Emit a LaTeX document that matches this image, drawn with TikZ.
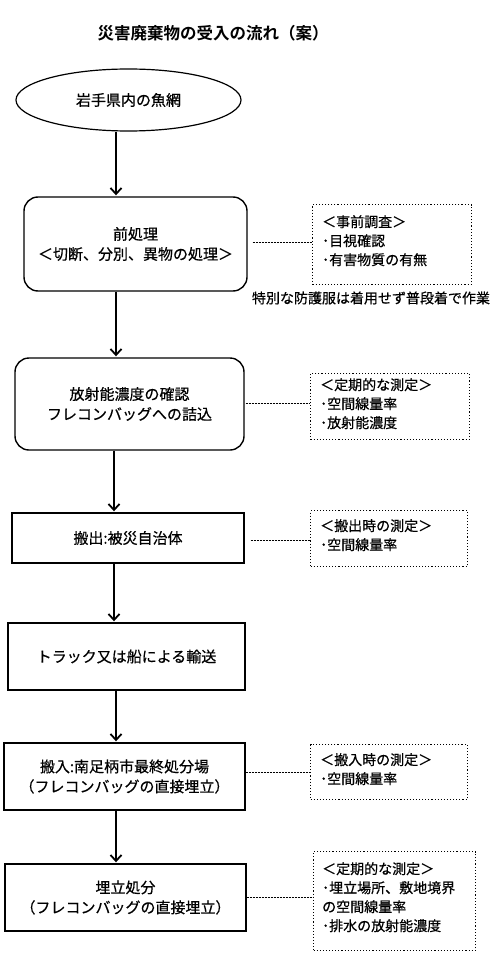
\documentclass[tikz,border=0pt]{standalone}
\usepackage{fontspec}
\newfontfamily\jp[FakeBold=0.6]{Noto Sans CJK JP}
\newfontfamily\jpb{Noto Sans CJK JP Bold}
\usetikzlibrary{arrows.meta,shapes.geometric}
\tikzset{
  mainbox/.style={draw, line width=1.4pt, align=center, inner sep=0pt, font=\jp\fontsize{15}{20}\selectfont},
  roundbox/.style={mainbox, rounded corners=14pt},
  notebox/.style={draw, dotted, line width=1.1pt, align=left, inner sep=0pt, anchor=north west, font=\jp\fontsize{14}{19}\selectfont},
  notetext/.style={anchor=north west, align=left, inner sep=0pt, font=\jp\fontsize{14}{19}\selectfont},
  flow/.style={line width=1.8pt, -{Straight Barb[length=6pt,width=11pt,line width=1.8pt]}, shorten >=1pt},
  link/.style={dash pattern=on 2pt off 1pt, line width=0.8pt},
}
\begin{document}
\begin{tikzpicture}[x=1pt,y=-1pt]
\useasboundingbox (0,0) rectangle (500,960);
\node[font=\jpb\fontsize{16.5}{20}\selectfont] (title) at (213,33) {災害廃棄物の受入の流れ（案）};

\node[draw, ellipse, line width=1.2pt, minimum width=225pt, minimum height=62pt, inner sep=0pt, font=\jp\fontsize{15}{20}\selectfont] (e) at (128.5,100) {岩手県内の魚網};

\node[roundbox, minimum width=223pt, minimum height=94pt] (b2) at (135.5,244) {前処理\\＜切断、分別、異物の処理＞};
\node[roundbox, minimum width=229pt, minimum height=92pt] (b3) at (129.5,404) {放射能濃度の確認\\フレコンバッグへの詰込};
\node[mainbox, minimum width=232pt, minimum height=50pt] (b4) at (128,538) {搬出:被災自治体};
\node[mainbox, minimum width=237pt, minimum height=67pt] (b5) at (126.5,656.5) {トラック又は船による輸送};
\node[mainbox, minimum width=241pt, minimum height=67pt] (b6) at (124.5,776.5) {搬入:南足柄市最終処分場\\（フレコンバッグの直接埋立）};
\node[mainbox, minimum width=241pt, minimum height=67pt] (b7) at (125.5,897.5) {埋立処分\\（フレコンバッグの直接埋立）};

\coordinate (ax1) at (116,0);
\coordinate (ax2) at (114,0);
\draw[flow] (e.south -| ax1) -- (b2.north -| ax1);
\draw[flow] (b2.south -| ax1) -- (b3.north -| ax1);
\draw[flow] (b3.south -| ax2) -- (b4.north -| ax2);
\draw[flow] (b4.south -| ax2) -- (b5.north -| ax2);
\draw[flow] (b5.south -| ax1) -- (b6.north -| ax1);
\draw[flow] (b6.south -| ax1) -- (b7.north -| ax1);

\node[notebox, minimum width=159pt, minimum height=80pt] (n1) at (312,204) {};
\node[notetext] (t1) at (322,215) {＜事前調査＞\\･目視確認\\･有害物質の有無};
\node[font=\jp\fontsize{14}{17}\selectfont, inner sep=0pt] (sp) at (371,298) {特別な防護服は着用せず普段着で作業};

\node[notebox, minimum width=159pt, minimum height=66pt] (n2) at (310,373) {};
\node[notetext] (t2) at (320,378) {＜定期的な測定＞\\･空間線量率\\･放射能濃度};

\node[notebox, minimum width=157pt, minimum height=56pt] (n3) at (310,510) {};
\node[notetext] (t3) at (320,519) {＜搬出時の測定＞\\･空間線量率};

\node[notebox, minimum width=157pt, minimum height=55pt] (n4) at (310,744) {};
\node[notetext] (t4) at (320,753) {＜搬入時の測定＞\\･空間線量率};

\node[notebox, minimum width=162pt, minimum height=99pt] (n5) at (313,851) {};
\node[notetext] (t5) at (322,862) {＜定期的な測定＞\\･埋立場所、敷地境界\\の空間線量率\\･排水の放射能濃度};

\draw[link] (b2.east |- 0,242) ++(5,0) -- (n1.west |- 0,242);
\draw[link] (b3.east |- 0,403) ++(1,0) -- (n2.west |- 0,403);
\draw[link] (b4.east |- 0,540) ++(6,0) -- (n3.west |- 0,540);
\draw[link] (b6.east |- 0,772) -- (n4.west |- 0,772);
\draw[link] (b7.east |- 0,897) -- (n5.west |- 0,897);
\end{tikzpicture}
\end{document}
